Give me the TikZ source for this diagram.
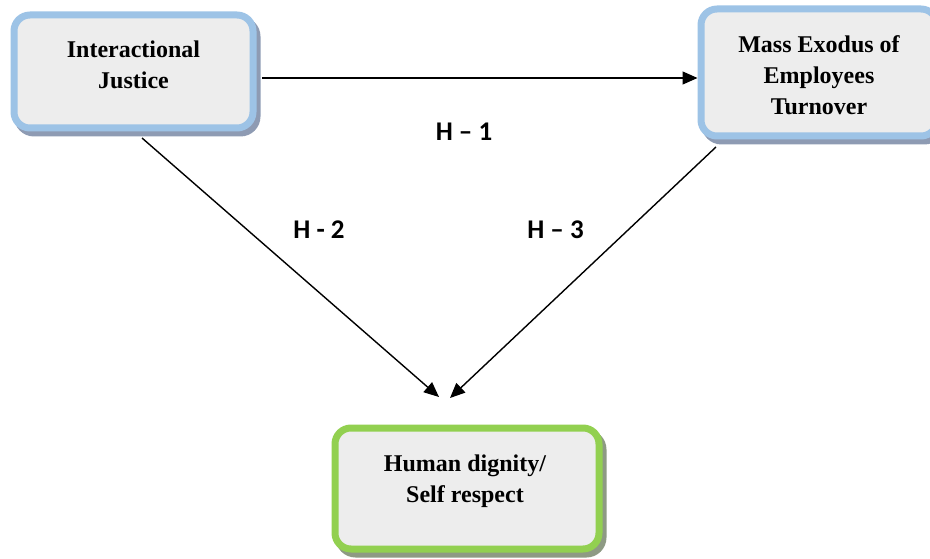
\documentclass[tikz,border=0pt]{standalone}
\usepackage{fontspec}
\setmainfont{Liberation Serif}
\newfontfamily\labfont{Carlito}
\usetikzlibrary{arrows.meta}
\definecolor{boxfill}{HTML}{EDEDED}
\definecolor{boxblue}{HTML}{9DC3E6}
\definecolor{boxgreen}{HTML}{92D050}
\definecolor{shblue}{HTML}{8E9BB3}
\definecolor{shgreen}{HTML}{8E9A84}
\begin{document}
\begin{tikzpicture}[x=1pt,y=-1pt,
  box/.style={draw=boxblue, fill=boxfill, line width=7pt, rounded corners=16pt, inner sep=0pt},
  gbox/.style={box, draw=boxgreen},
  shadowbox/.style={rounded corners=20pt},
  boxtext/.style={align=center, font=\fontsize{24}{31}\selectfont\bfseries, inner sep=0pt},
  hlab/.style={font=\labfont\fontsize{27}{30}\selectfont\bfseries, inner sep=0pt},
  conn/.style={line width=1.4pt, -{Triangle[length=15pt,width=13pt]}}]
\useasboundingbox (0,0) rectangle (930,559);
\clip (0,0) rectangle (930,559);
% shadows
\fill[shadowbox, shblue] (14,16.5) rectangle (260.5,136.5);
\fill[shadowbox, shblue] (701.5,10.5) rectangle (944.5,144.5);
\fill[shadowbox, shgreen] (335.5,429.5) rectangle (606.5,557.5);
% boxes
\node[box, minimum width=239pt, minimum height=113pt] (ij) at (133.5,71.5) {};
\node[box, minimum width=236pt, minimum height=127pt] (me) at (819,72.5) {};
\node[gbox, minimum width=264pt, minimum height=121pt] (hd) at (467,488.5) {};
% texts
\node[boxtext] (ijt) at (133.5,65) {Interactional\\Justice};
\node[boxtext] (met) at (819,75.5) {Mass Exodus of\\Employees\\Turnover};
\node[boxtext] (hdt) at (465,481) {Human dignity/\\Self respect};
% connector ends
\coordinate (s1) at (262,78);
\coordinate (t1) at (697.5,78);
\coordinate (s2) at (142,138);
\coordinate (t2) at (439,397);
\coordinate (s3) at (716,147);
\coordinate (t3) at (450,398);
\draw[conn] (s1) -- (t1);
\draw[conn] (s2) -- (t2);
\draw[conn] (s3) -- (t3);
% labels
\node[hlab] (h1) at (464,132) {H – 1};
\node[hlab] (h2) at (319,230) {H - 2};
\node[hlab] (h3) at (555.5,230) {H – 3};
\end{tikzpicture}
\end{document}
